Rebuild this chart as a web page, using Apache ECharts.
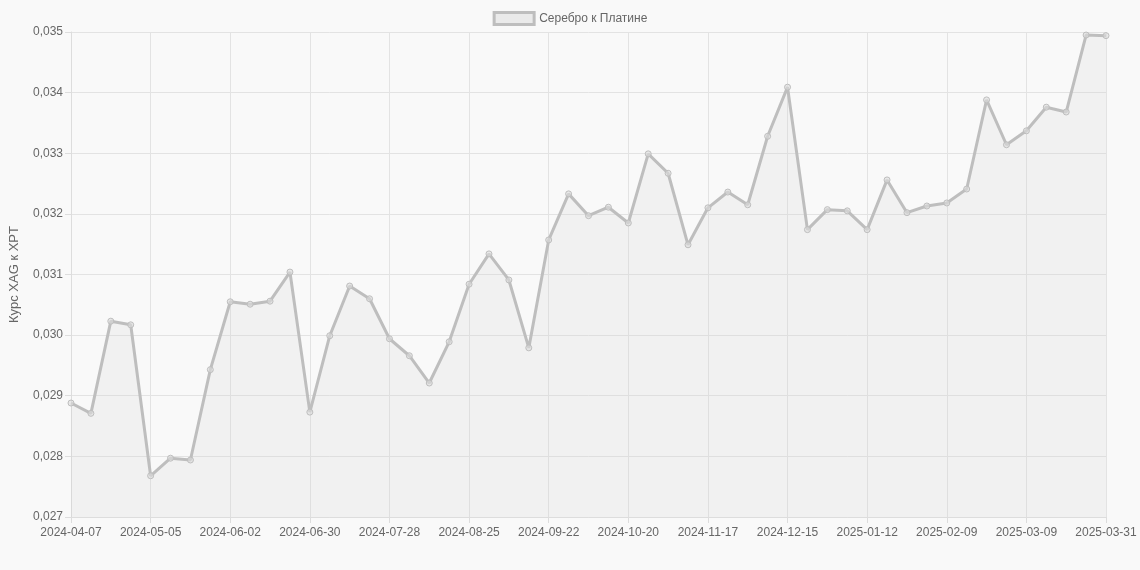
<!DOCTYPE html>
<html><head><meta charset="utf-8">
<script src="https://cdn.jsdelivr.net/npm/echarts@6/dist/echarts.min.js"></script>
<style>html,body{margin:0;background:#f9f9f9}#c{width:1140px;height:570px}</style>
</head><body><div id="c"></div>
<script>
const seriesName = 'Серебро к Платине';
const startDate = '2024-04-07';
const lastLabel = '2025-03-31';
const values = [0.02888,0.02871,0.03023,0.03017,0.02768,0.02797,0.02794,0.02943,0.03055,0.03051,0.03056,0.03104,0.02873,0.02999,0.03081,0.03060,0.02994,0.02966,0.02921,0.02989,0.03084,0.03134,0.03091,0.02979,0.03157,0.03233,0.03197,0.03211,0.03185,0.03299,0.03267,0.03149,0.03210,0.03236,0.03215,0.03328,0.03409,0.03174,0.03207,0.03205,0.03174,0.03256,0.03202,0.03213,0.03218,0.03241,0.03388,0.03314,0.03337,0.03376,0.03368,0.03495,0.03494];
const categories = [];
{
  const d = new Date(startDate + 'T00:00:00Z');
  for (let i = 0; i < values.length - 1; i++) {
    categories.push(d.toISOString().slice(0, 10));
    d.setUTCDate(d.getUTCDate() + 7);
  }
  categories.push(lastLabel);
}
const chart = echarts.init(document.getElementById('c'));
const font = 'Liberation Sans, Arial, sans-serif';
chart.setOption({
  backgroundColor: '#f9f9f9',
  textStyle: {fontFamily: font},
  legend: {top: 6, left: 'center', itemWidth: 40, itemHeight: 12, icon: 'rect',
    textStyle: {color: '#666', fontSize: 12, fontFamily: font},
    data: [{name: seriesName, itemStyle: {color: 'rgba(200,200,200,0.3)', borderColor: 'rgb(190,190,190)', borderWidth: 3}}]},
  grid: {left: 68, right: 34, top: 32, bottom: 53},
  xAxis: {type: 'category', boundaryGap: false, data: categories,
    axisLine: {lineStyle: {color: '#ddd'}}, axisTick: {show: true, interval: 3, length: 6, lineStyle: {color: '#ddd'}},
    axisLabel: {interval: 3, color: '#666', fontSize: 12, margin: 10},
    splitLine: {show: true, interval: 3, lineStyle: {color: '#e3e3e3'}}},
  yAxis: {type: 'value', min: 0.027, max: 0.035, interval: 0.001,
    name: 'Курс XAG к XPT', nameLocation: 'middle', nameGap: 50, nameRotate: 90,
    nameTextStyle: {color: '#666', fontSize: 13},
    axisLine: {show: true, lineStyle: {color: '#ddd'}}, axisTick: {show: true, length: 6, lineStyle: {color: '#ddd'}},
    axisLabel: {color: '#666', fontSize: 12, formatter: v => v.toFixed(3).replace('.', ',')},
    splitLine: {lineStyle: {color: '#e3e3e3'}}},
  series: [{name: seriesName, type: 'line', data: values, symbol: 'circle', symbolSize: 6,
    itemStyle: {color: 'rgba(220,220,220,0.6)', borderColor: 'rgb(190,190,190)', borderWidth: 1},
    lineStyle: {color: 'rgb(190,190,190)', width: 3},
    areaStyle: {color: 'rgba(200,200,200,0.2)', origin: 'start'}}]
});
</script></body></html>
